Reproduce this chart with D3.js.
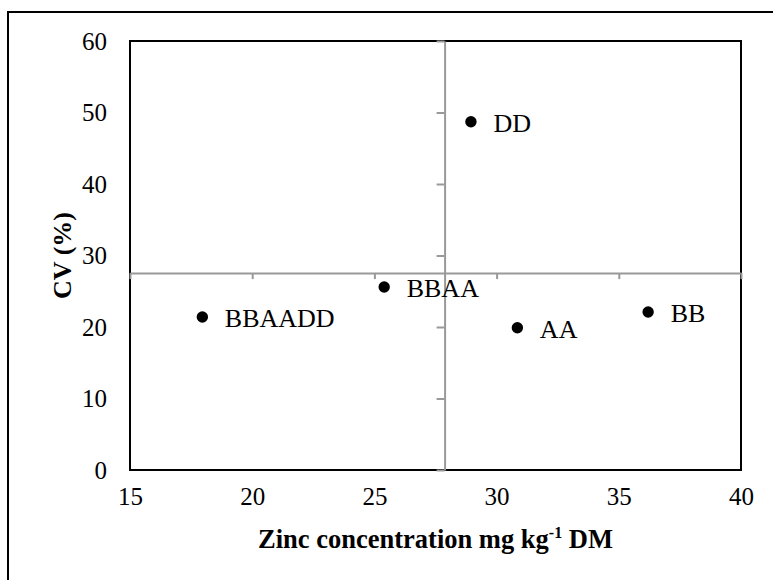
<!DOCTYPE html>
<html>
<head>
<meta charset="utf-8">
<script src="https://cdn.jsdelivr.net/npm/d3@7"></script>
<style>
	body { margin: 0; background: #fff; }
	svg { display: block; }
</style>
</head>
<body>
<svg id="chart" width="773" height="580"></svg>
<script>
const genotypes = ['BBAADD', 'BBAA', 'DD', 'AA', 'BB'];
const zincValues = [17.96, 25.4, 28.95, 30.85, 36.2];
const cvValues = [21.4, 25.6, 48.7, 19.9, 22.1];
const xTicks = [15, 20, 25, 30, 35, 40];
const yTicks = [0, 10, 20, 30, 40, 50, 60];

const FONT = 'Liberation Serif';

const points = genotypes.map((name, i) => ({name, zinc: zincValues[i], cv: cvValues[i]}));

const svg = d3.select('#chart').attr('font-family', FONT);

const //
	plotLeft = 130,
	plotRight = 741,
	plotTop = 41,
	plotBottom = 470;

const x = d3.scaleLinear().domain([15, 40]).range([plotLeft, plotRight]);
const y = d3.scaleLinear().domain([0, 60]).range([plotBottom, plotTop]);

// the grey axes cross at the mean of each variable
const xCross = d3.mean(zincValues);
const yCross = d3.mean(cvValues);

// outer chart box (runs off the right and bottom edges)
svg.append('rect')
	.attr('x', 8).attr('y', 12)
	.attr('width', 800).attr('height', 600)
	.attr('fill', 'none').attr('stroke', '#000').attr('stroke-width', 2);

// plot area border
svg.append('rect')
	.attr('x', plotLeft).attr('y', plotTop)
	.attr('width', plotRight - plotLeft).attr('height', plotBottom - plotTop)
	.attr('fill', 'none').attr('stroke', '#000').attr('stroke-width', 2);

// grey crossing axes with their ticks
const vAxis = svg.append('g')
	.attr('transform', `translate(${x(xCross)},0)`)
	.call(d3.axisLeft(y).tickValues(yTicks).tickSize(8).tickSizeOuter(0).tickFormat(''));
const hAxis = svg.append('g')
	.attr('transform', `translate(0,${y(yCross)})`)
	.call(d3.axisBottom(x).tickValues(xTicks).tickSize(6).tickSizeOuter(0).tickFormat(''));
[vAxis, hAxis].forEach(g => {
	g.selectAll('path, line').attr('stroke', '#999').attr('stroke-width', 2);
});

// tick labels sit on the plot edges
const yLabels = svg.append('g')
	.attr('transform', `translate(${plotLeft},0)`)
	.call(d3.axisLeft(y).tickValues(yTicks).tickSize(0).tickPadding(23));
const xLabels = svg.append('g')
	.attr('transform', `translate(0,${plotBottom})`)
	.call(d3.axisBottom(x).tickValues(xTicks).tickSize(0).tickPadding(17));
[yLabels, xLabels].forEach(g => {
	g.attr('font-family', FONT).attr('font-size', 25);
	g.select('.domain').remove();
	g.selectAll('text').attr('font-family', FONT).attr('fill', '#000');
});

// points and labels
svg.selectAll('circle.pt')
	.data(points)
	.enter()
	.append('circle')
	.attr('class', 'pt')
	.attr('cx', d => x(d.zinc))
	.attr('cy', d => y(d.cv))
	.attr('r', 5.7)
	.attr('fill', '#000');

svg.selectAll('text.lbl')
	.data(points)
	.enter()
	.append('text')
	.attr('class', 'lbl')
	.attr('x', d => x(d.zinc) + 22.5)
	.attr('y', d => y(d.cv) + 10)
	.attr('font-family', FONT)
	.attr('font-size', 26)
	.text(d => d.name);

// axis titles
const xTitle = svg.append('text')
	.attr('x', (plotLeft + plotRight) / 2)
	.attr('y', 548)
	.attr('text-anchor', 'middle')
	.attr('font-family', FONT)
	.attr('font-size', 26.5)
	.attr('font-weight', 'bold');
xTitle.append('tspan').text('Zinc concentration mg kg');
xTitle.append('tspan').attr('dy', -10).attr('font-size', 16).text('-1');
xTitle.append('tspan').attr('dy', 10).text(' DM');

svg.append('text')
	.attr('transform', `translate(71,${(plotTop + plotBottom) / 2}) rotate(-90)`)
	.attr('text-anchor', 'middle')
	.attr('font-family', FONT)
	.attr('font-size', 26)
	.attr('font-weight', 'bold')
	.text('CV (%)');
</script>
</body>
</html>
